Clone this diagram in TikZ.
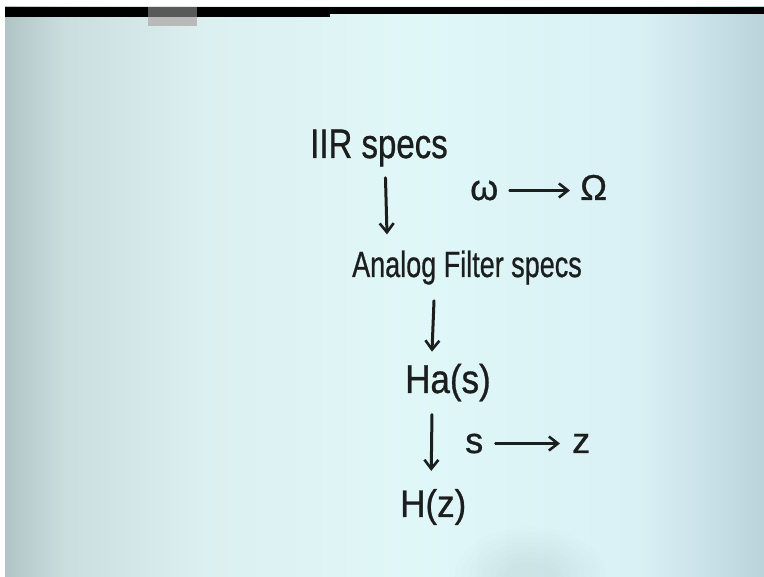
\documentclass[tikz,border=0pt]{standalone}
\usepackage{fontspec}
\setmainfont{Liberation Sans}[FakeBold=0.8]
\usepackage{graphicx}
\usetikzlibrary{arrows.meta}
\definecolor{ink}{RGB}{28,30,30}
\pgfdeclarehorizontalshading{board}{100bp}{%
  rgb(0bp)=(0.69,0.77,0.77);
  rgb(25bp)=(0.69,0.77,0.77);
  rgb(28.9bp)=(0.79,0.87,0.87);
  rgb(38.1bp)=(0.86,0.94,0.94);
  rgb(52.5bp)=(0.88,0.97,0.975);
  rgb(66.9bp)=(0.85,0.94,0.96);
  rgb(75bp)=(0.73,0.83,0.86);
  rgb(100bp)=(0.73,0.83,0.86)}
\tikzset{
  hand/.style={inner sep=0pt, anchor=base west, text=ink},
  pen/.style={draw=ink, line width=3pt, line cap=round, -{Straight Barb[length=9pt,width=14pt,line width=2.6pt]}},
}
\begin{document}
\begin{tikzpicture}[x=1pt,y=-1pt]
\useasboundingbox (0,0) rectangle (764,577);
% board background
\fill[white] (0,0) rectangle (764,577);
\shade[shading=board] (5,7) rectangle (764,577);
% top black bar
\fill[black] (5,7) rectangle (330,17);
\fill[black] (330,7) rectangle (764,14);
\fill[gray!70!black] (148,7) rectangle (197,17);
\fill[gray!55] (148,17) rectangle (197,26);
% faint shadow at bottom
\foreach \r in {1,...,8}{
  \fill[black, opacity=0.006] (530,577) ellipse ({20+7*\r} and {10+5*\r});
}
% texts
\node[hand] (iir) at (310,158) {\scalebox{1}[1.25]{\fontsize{33}{36}\selectfont IIR specs}};
\node[hand] (omega) at (470,200) {\fontsize{36}{40}\selectfont ω};
\node[hand] (Omega) at (580,200) {\fontsize{36}{40}\selectfont Ω};
\node[hand] (analog) at (352,277) {\scalebox{1}[1.35]{\fontsize{27}{30}\selectfont Analog Filter specs}};
\node[hand] (ha) at (405,393) {\scalebox{1}[1.15]{\fontsize{35}{38}\selectfont Ha(s)}};
\node[hand] (sv) at (465,453) {\fontsize{36}{40}\selectfont s};
\node[hand] (zv) at (572,453) {\fontsize{36}{40}\selectfont z};
\node[hand] (hz) at (400,517) {\scalebox{1}[1.1]{\fontsize{35}{38}\selectfont H(z)}};
% connectors
\draw[pen] ([xshift=6.5pt,yshift=-11pt]iir.south) -- ([xshift=-80pt,yshift=16pt]analog.north);
\draw[pen] ([xshift=-33pt,yshift=-16pt]analog.south) -- ([xshift=-16pt,yshift=12pt]ha.north);
\draw[pen] ([xshift=-16pt,yshift=-13pt]ha.south) -- ([xshift=-2pt,yshift=18pt]hz.north);
\draw[pen, line width=2.4pt] ([xshift=11pt]omega.east) -- ([xshift=-10pt]Omega.west |- omega.east);
\draw[pen, line width=2.4pt] ([xshift=12pt]sv.east) -- ([xshift=-12pt]zv.west |- sv.east);
\end{tikzpicture}
\end{document}
